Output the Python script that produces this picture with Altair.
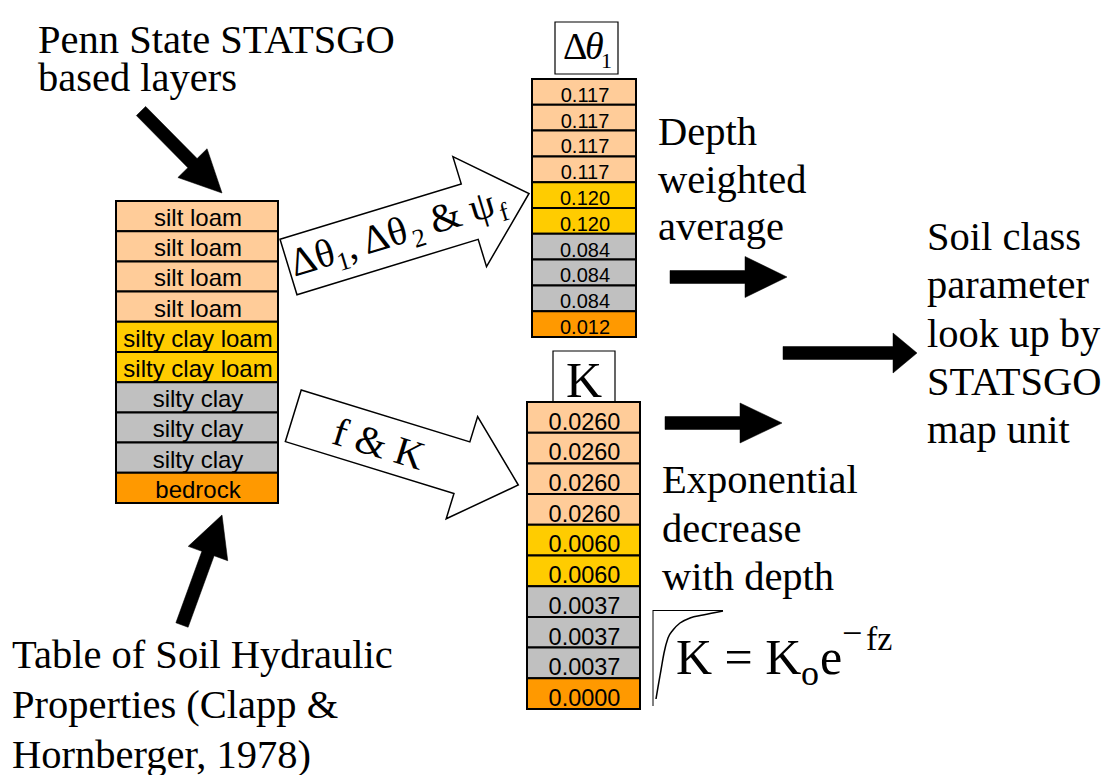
import math
import altair as alt
import pandas as pd

# ---------------- data ----------------
layer_textures = ["silt loam", "silt loam", "silt loam", "silt loam",
                  "silty clay loam", "silty clay loam",
                  "silty clay", "silty clay", "silty clay", "bedrock"]
delta_theta1 = [0.117, 0.117, 0.117, 0.117, 0.120, 0.120, 0.084, 0.084, 0.084, 0.012]
k_values = [0.0260, 0.0260, 0.0260, 0.0260, 0.0060, 0.0060, 0.0037, 0.0037, 0.0037, 0.0000]
texture_names = ["silt loam", "silty clay loam", "silty clay", "bedrock"]
texture_colors = ["#FFCC99", "#FFCC00", "#C0C0C0", "#FF9900"]

# hand sketch of the exponential K profile
curve_x = [723, 703, 690, 680, 673, 668, 664, 661, 658, 656]
curve_y = [611, 615, 618, 623, 630, 638, 653, 670, 687, 699]

penn_lines = ["Penn State STATSGO", "based layers"]
table_lines = ["Table of Soil Hydraulic", "Properties  (Clapp &", "Hornberger, 1978)"]
depth_lines = ["Depth", "weighted", "average"]
soil_class_lines = ["Soil class", "parameter", "look up by", "STATSGO", "map unit"]
expo_lines = ["Exponential", "decrease", "with depth"]

# ---------------- layout ----------------
W, H = 1096, 767           # plot area; data units equal page pixels
SERIF = "Liberation Serif"
SANS = "Liberation Sans"

XS = alt.Scale(domain=[8, 8 + W], nice=False, zero=False)
YS = alt.Scale(domain=[8, 8 + H], nice=False, zero=False, reverse=True)


def X(f="x"):
    return alt.X(f"{f}:Q", scale=XS, axis=None)


def Y(f="y"):
    return alt.Y(f"{f}:Q", scale=YS, axis=None)


# table columns: (labels, textures, x0, x1, y0, y1, font size, baseline offset)
columns = [
    (layer_textures, layer_textures, 116, 278, 201, 503, 24, 25.0),
    ([f"{v:.3f}" for v in delta_theta1], layer_textures, 532, 636, 79, 337, 20, 22.7),
    ([f"{v:.4f}" for v in k_values], layer_textures, 527, 640, 402, 709, 23.5, 27.6),
]
cells = []
for labels, tex, x0, x1, y0, y1, fs, bo in columns:
    n = len(labels)
    h = (y1 - y0) / n
    for i, (lab, t) in enumerate(zip(labels, tex)):
        cells.append(dict(x=x0, x2=x1, y=y0 + i * h, y2=y0 + (i + 1) * h,
                          tx=(x0 + x1) / 2 + 1, ty=y0 + i * h + bo,
                          label=lab, texture=t, size=fs))
cells = pd.DataFrame(cells)

rects = alt.Chart(cells).mark_rect(stroke="black", strokeWidth=2).encode(
    x=X("x"), x2="x2", y=Y("y"), y2="y2",
    color=alt.Color("texture:N", scale=alt.Scale(domain=texture_names, range=texture_colors), legend=None),
)
cell_text = alt.Chart(cells).mark_text(font=SANS, align="center", baseline="alphabetic", color="black").encode(
    x=X("tx"), y=Y("ty"), text="label:N", size=alt.Size("size:Q", scale=None),
)

# header boxes
boxes = pd.DataFrame([dict(x=555, x2=618, y=22, y2=74), dict(x=553, x2=615, y=351, y2=402)])
box_layer = alt.Chart(boxes).mark_rect(fill="white", stroke="black", strokeWidth=1.2).encode(
    x=X("x"), x2="x2", y=Y("y"), y2="y2")


# arrows as custom symbol paths (size 4 -> 1 path unit = 1 px), tail centre at (x, y)
def arrow_path(length, shaft, head_w, head_l):
    b = length - head_l
    s, h = shaft / 2, head_w / 2
    return f"M0,{-s}L{b},{-s}L{b},{-h}L{length},0L{b},{h}L{b},{s}L0,{s}Z"


def arrow(tail, tip, shaft, head_w, head_l, fill, stroke, sw):
    dx, dy = tip[0] - tail[0], tip[1] - tail[1]
    L = math.hypot(dx, dy)
    ang = math.degrees(math.atan2(dy, dx)) % 360
    return dict(x=tail[0], y=tail[1], angle=ang, path=arrow_path(L, shaft, head_w, head_l),
                fill=fill, stroke=stroke, sw=sw)


arrows = pd.DataFrame([
    arrow((141, 111), (222, 193), 13, 41, 42, "black", "black", 0.5),
    arrow((182, 625), (222, 515), 13, 42, 41, "black", "black", 0.5),
    arrow((670, 277), (787, 277), 13, 41, 42, "black", "black", 0.5),
    arrow((783, 353), (917, 353), 13, 40, 24, "black", "black", 0.5),
    arrow((665, 423), (782, 423), 13, 40, 42, "black", "black", 0.5),
    arrow((288.5, 267), (529, 193.5), 58, 115, 62, "white", "black", 1.5),
    arrow((293.3, 415.8), (518.3, 485), 54, 107, 59, "white", "black", 1.5),
])
arrow_layer = alt.Chart(arrows).mark_point(filled=True, opacity=1).encode(
    x=X("x"), y=Y("y"),
    shape=alt.Shape("path:N", scale=None),
    angle=alt.Angle("angle:Q", scale=None),
    fill=alt.Fill("fill:N", scale=None),
    stroke=alt.Stroke("stroke:N", scale=None),
    strokeWidth=alt.StrokeWidth("sw:Q", scale=None),
    size=alt.value(4),
)


# text along a rotated arrow: (u along arrow, w across arrow) -> page position
def along(tail, ang_deg, u, w):
    a = math.radians(ang_deg)
    return (tail[0] + u * math.cos(a) - w * math.sin(a),
            tail[1] + u * math.sin(a) + w * math.cos(a))


texts = []
for lines, x, y0, dy in [(penn_lines, 38, 53, 38), (table_lines, 12, 668, 50),
                         (depth_lines, 658, 145, 47.5), (soil_class_lines, 927, 250, 48.3),
                         (expo_lines, 662, 493, 48.5)]:
    for i, ln in enumerate(lines):
        texts.append(dict(x=x, y=y0 + i * dy, text=ln, size=40.5, angle=0))

top_tail, top_ang = (288.5, 267), -17.0
for t, u, w, fs in [("Δθ", 3, 11, 40), ("1", 48, 19, 26), (", Δθ", 61, 11, 40),
                    ("2", 127, 19, 26), ("& ψ", 149, 11, 40), ("f", 218, 19, 26)]:
    px, py = along(top_tail, top_ang, u, w)
    texts.append(dict(x=px, y=py, text=t, size=fs, angle=top_ang % 360))

# formula K = K_o e^(-fz) and header pieces
for t, x, y, fs in [("K = K", 676, 674, 50), ("o", 801, 685, 36), ("e", 820, 674, 50),
                    ("−", 842, 645, 36), ("fz", 866, 650, 34),
                    ("Δ", 563, 59, 38), ("1", 601, 68, 22)]:
    texts.append(dict(x=x, y=y, text=t, size=fs, angle=0))
texts = pd.DataFrame(texts)

text_layer = alt.Chart(texts).mark_text(font=SERIF, align="left", baseline="alphabetic", color="black").encode(
    x=X("x"), y=Y("y"), text="text:N",
    size=alt.Size("size:Q", scale=None), angle=alt.Angle("angle:Q", scale=None),
)

bot_tail, bot_ang = (293.3, 415.8), 17.1
fx, fy = along(bot_tail, bot_ang, 90, 15)
centered = pd.DataFrame([
    dict(x=fx, y=fy, text="f & K", size=40, angle=bot_ang),
    dict(x=584, y=397, text="K", size=50, angle=0),
])
centered_layer = alt.Chart(centered).mark_text(font=SERIF, align="center", baseline="alphabetic", color="black").encode(
    x=X("x"), y=Y("y"), text="text:N",
    size=alt.Size("size:Q", scale=None), angle=alt.Angle("angle:Q", scale=None),
)

theta_italic = alt.Chart(pd.DataFrame([dict(x=585, y=59, text="θ")])).mark_text(
    font=SERIF, fontStyle="italic", fontSize=38, align="left", baseline="alphabetic", color="black"
).encode(x=X("x"), y=Y("y"), text="text:N")

# exponential sketch with its two axis lines
curve = pd.DataFrame(dict(x=curve_x, y=curve_y, order=list(range(len(curve_x)))))
curve_layer = alt.Chart(curve).mark_line(color="black", strokeWidth=1.5, interpolate="monotone").encode(
    x=X("x"), y=Y("y"), order="order:Q")
axis_lines = pd.DataFrame([dict(x=653, x2=653, y=610, y2=706), dict(x=653, x2=723, y=610.5, y2=610.5)])
axis_layer = alt.Chart(axis_lines).mark_rule(color="black", strokeWidth=1).encode(
    x=X("x"), x2="x2", y=Y("y"), y2="y2")

chart = alt.layer(
    box_layer, rects, cell_text, arrow_layer, text_layer, centered_layer, theta_italic,
    curve_layer, axis_layer,
).properties(
    width=W, height=H, padding=0, autosize=alt.AutoSizeParams(type="none"), background="white",
).configure_view(strokeWidth=0)

chart.save("out.html", embed_options={"renderer": "svg", "actions": False})
